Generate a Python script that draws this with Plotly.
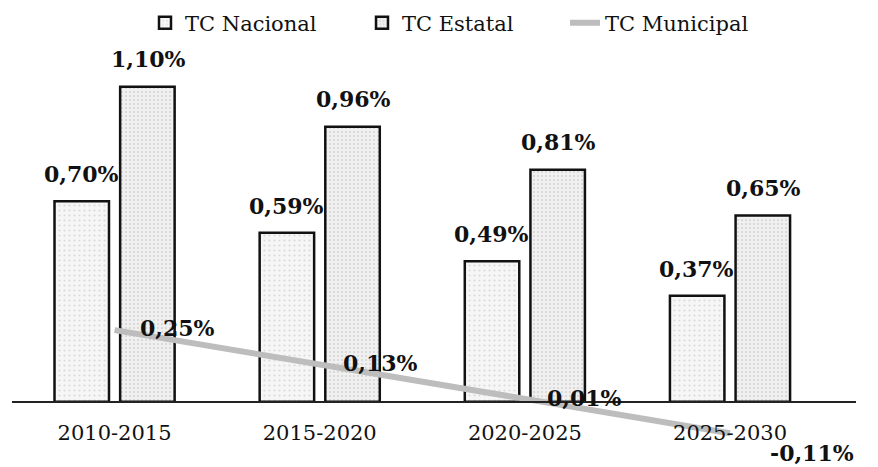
import plotly.graph_objects as go

categories = ["2010-2015", "2015-2020", "2020-2025", "2025-2030"]
tc_nacional = [0.70, 0.59, 0.49, 0.37]
tc_estatal = [1.10, 0.96, 0.81, 0.65]
tc_municipal = [0.25, 0.13, 0.01, -0.11]

def fmt(v):
    return f"{v:.2f}".replace(".", ",") + "%"

SERIF = "DejaVu Serif"
# page has an 8px body margin; figure sized to fit the 878x467 window
OFF = 8
W, H = 878 - OFF, 467 - OFF
L, T = 12 - OFF, 58 - OFF
PW, PH = 844, 401
R, B = W - L - PW, H - T - PH

def page_x(p):
    return (p - OFF - L) / PW

def page_y(p):
    return (H - B - (p - OFF)) / PH

fig = go.Figure()
fig.add_trace(go.Bar(
    name="TC Nacional", x=categories, y=tc_nacional, legend="legend",
    marker=dict(color="#f3f3f3", line=dict(color="#111111", width=2.5),
                pattern=dict(shape=".", fgcolor="#bdbdbd", bgcolor="#f6f6f6", size=5, solidity=0.15)),
))
fig.add_trace(go.Bar(
    name="TC Estatal", x=categories, y=tc_estatal, legend="legend2",
    marker=dict(color="#ececec", line=dict(color="#111111", width=2.5),
                pattern=dict(shape=".", fgcolor="#b5b5b5", bgcolor="#f0f0f0", size=4, solidity=0.2)),
))
fig.add_trace(go.Scatter(
    name="TC Municipal", x=categories, y=tc_municipal, mode="lines", legend="legend3",
    line=dict(color="#bdbdbd", width=6),
))

lab_font = dict(family=SERIF, size=22, color="#111111", weight="bold")
annotations = []
for i, c in enumerate(categories):
    annotations.append(dict(x=c, y=tc_nacional[i], text=fmt(tc_nacional[i]), showarrow=False,
                            xshift=-33.5, yshift=27, yanchor="middle", font=lab_font))
    annotations.append(dict(x=c, y=tc_estatal[i], text=fmt(tc_estatal[i]), showarrow=False,
                            xshift=33.5, yshift=28, yanchor="middle", font=lab_font))
line_shifts = [(63, 2), (61, 1), (60, 1), (82, -20)]
for i, c in enumerate(categories):
    dx, dy = line_shifts[i]
    annotations.append(dict(x=c, y=tc_municipal[i], text=fmt(tc_municipal[i]), showarrow=False,
                            xshift=dx, yshift=dy, yanchor="middle", font=lab_font))

leg_common = dict(orientation="h", yanchor="middle", y=page_y(23), xanchor="left",
                  font=dict(family=SERIF, size=21, color="#111111"), bgcolor="rgba(0,0,0,0)")

fig.update_layout(
    width=W, height=H,
    margin=dict(l=L, r=R, t=T, b=B, autoexpand=False),
    paper_bgcolor="white", plot_bgcolor="white",
    barmode="group", bargap=0.36, bargroupgap=0.17,
    font=dict(family=SERIF, color="#111111"),
    showlegend=True,
    legend=dict(x=page_x(145), **leg_common),
    legend2=dict(x=page_x(362), **leg_common),
    legend3=dict(x=page_x(565), **leg_common),
    annotations=annotations,
    xaxis=dict(anchor="free", position=0.2 / 1.4, showline=True, linecolor="#222222", linewidth=1.5,
               showgrid=False, zeroline=False, ticks="", ticklabelstandoff=12,
               tickfont=dict(family=SERIF, size=21, color="#111111")),
    yaxis=dict(range=[-0.2, 1.2], visible=False, showgrid=False, zeroline=False),
)

fig.write_html("out.html")
